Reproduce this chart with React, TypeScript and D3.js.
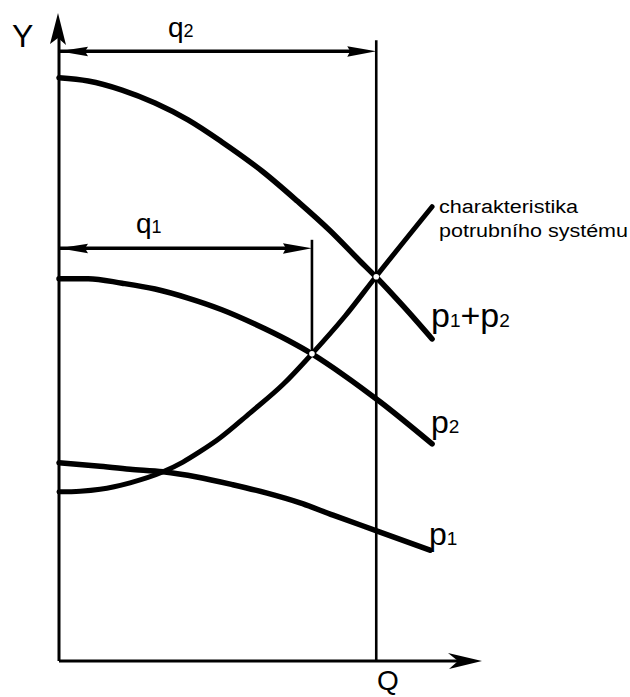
import React from "react";
import * as d3 from "d3";

// Data in chart units (x: flow Q 0..10, y: head Y 0..10)
const curveP1P2: [number, number][] = [
  [0, 9.0], [0.69, 8.95], [1.49, 8.81], [2.27, 8.61], [3.05, 8.35], [3.85, 8.01],
  [4.82, 7.55], [5.63, 7.1], [6.41, 6.64], [7.12, 6.17], [7.49, 5.93], [8.16, 5.46], [8.82, 4.97],
];
const curveP2: [number, number][] = [
  [0, 5.9], [0.69, 5.9], [1.49, 5.83], [2.27, 5.74], [3.05, 5.6], [3.85, 5.42],
  [4.63, 5.2], [5.41, 4.95], [5.98, 4.74], [6.76, 4.4], [7.59, 4.0], [8.82, 3.35],
];
const curveP1: [number, number][] = [
  [0, 3.06], [0.9, 3.01], [1.68, 2.96], [2.46, 2.92], [3.26, 2.84], [4.11, 2.72],
  [4.92, 2.59], [5.7, 2.44], [6.48, 2.25], [7.59, 1.99], [8.77, 1.71],
];
const curveSystem: [number, number][] = [
  [0, 2.61], [0.5, 2.62], [0.97, 2.65], [1.68, 2.75], [2.46, 2.92], [2.93, 3.07],
  [3.33, 3.23], [3.74, 3.41], [4.52, 3.83], [5.3, 4.27], [5.98, 4.74], [6.76, 5.32],
  [7.49, 5.93], [8.82, 7.01],
];
const operatingQ = [5.98, 7.5]; // q1, q2
const operatingY = [4.74, 5.93];
const dimensionY = [6.37, 9.41]; // heights of q1, q2 dimension arrows
const guideTopY = [6.5, 9.58];
const curveLabels = ["p1", "p2", "p1+p2"];
const systemLabel = ["charakteristika", "potrubního systému"];

const W = 630;
const H = 697;

export default function App() {
  const x = d3.scaleLinear().domain([0, 10]).range([59, 482]);
  const y = d3.scaleLinear().domain([0, 10]).range([661, 13]);
  const line = d3
    .line<[number, number]>()
    .x((d) => x(d[0]))
    .y((d) => y(d[1]))
    .curve(d3.curveMonotoneX);

  const x0 = x(0);
  const y0 = y(0);
  const font = "'Liberation Sans', Arial, sans-serif";

  const curveStyle = {
    fill: "none",
    stroke: "#000",
    strokeWidth: 5.5,
    strokeLinecap: "round" as const,
    strokeLinejoin: "round" as const,
  };

  const leftHead = (tx: number, ty: number) =>
    `M${tx},${ty} L${tx + 29},${ty - 4.5} L${tx + 26},${ty} L${tx + 29},${ty + 5} Z`;
  const rightHead = (tx: number, ty: number) =>
    `M${tx},${ty} L${tx - 29},${ty - 5} L${tx - 26},${ty} L${tx - 29},${ty + 5.5} Z`;

  return (
    <svg
      width={W}
      height={H}
      style={{ position: "absolute", left: 0, top: 0, background: "#fff" }}
    >
      <rect width={W} height={H} fill="#fff" />
      {/* axes */}
      <line x1={x0} y1={y0} x2={x(10) - 20} y2={y0} stroke="#000" strokeWidth={3} />
      <line x1={x0} y1={y0} x2={x0} y2={y(10) + 20} stroke="#000" strokeWidth={3} />
      <path
        d={`M${x(10)},${y0} L${x(10) - 34},${y0 - 8} L${x(10) - 24},${y0} L${x(10) - 33},${y0 + 8} Z`}
        fill="#000"
      />
      <path
        d={`M${x0 - 1},${y(10)} L${x0 - 9},${y(10) + 31} L${x0 - 1},${y(10) + 25} L${x0 + 7},${y(10) + 32} Z`}
        fill="#000"
      />

      {/* vertical guides at q1, q2 */}
      {operatingQ.map((q, i) => (
        <line
          key={"g" + i}
          x1={x(q)}
          x2={x(q)}
          y1={y(guideTopY[i])}
          y2={i === 1 ? y0 : y(operatingY[i])}
          stroke="#000"
          strokeWidth={2.6}
        />
      ))}

      {/* dimension arrows */}
      {operatingQ.map((q, i) => (
        <g key={"d" + i}>
          <line
            x1={x0}
            x2={x(q) - 20}
            y1={y(dimensionY[i])}
            y2={y(dimensionY[i])}
            stroke="#000"
            strokeWidth={3.5}
          />
          <path d={leftHead(x0, y(dimensionY[i]))} fill="#000" />
          <path d={rightHead(x(q), y(dimensionY[i]))} fill="#000" />
        </g>
      ))}

      {/* curves */}
      <path d={line(curveP1P2) || ""} {...curveStyle} />
      <path d={line(curveP2) || ""} {...curveStyle} />
      <path d={line(curveP1) || ""} {...curveStyle} />
      <path d={line(curveSystem) || ""} {...curveStyle} strokeWidth={5} />

      {/* operating points */}
      {operatingQ.map((q, i) => (
        <circle key={"c" + i} cx={x(q)} cy={y(operatingY[i])} r={2.8} fill="#fff" />
      ))}

      {/* labels */}
      <text x={12} y={47} fontFamily={font} fontSize={32}>Y</text>
      <text x={168} y={37} fontFamily={font} fontSize={28}>
        q<tspan fontSize={18}>2</tspan>
      </text>
      <text x={136} y={233} fontFamily={font} fontSize={28}>
        q<tspan fontSize={18}>1</tspan>
      </text>
      <text x={388} y={690} fontFamily={font} fontSize={28} textAnchor="middle">Q</text>

      <text x={439} y={213} fontFamily={font} fontSize={18} textLength={139} lengthAdjust="spacingAndGlyphs">
        {systemLabel[0]}
      </text>
      <text x={439} y={237} fontFamily={font} fontSize={18} textLength={189} lengthAdjust="spacingAndGlyphs">
        {systemLabel[1]}
      </text>

      <text x={431} y={327} fontFamily={font} fontSize={34}>
        {curveLabels[2].slice(0, 1)}
        <tspan fontSize={19}>1</tspan>+p<tspan fontSize={19}>2</tspan>
      </text>
      <text x={431} y={433} fontFamily={font} fontSize={32}>
        {curveLabels[1].slice(0, 1)}
        <tspan fontSize={19}>2</tspan>
      </text>
      <text x={429} y={545} fontFamily={font} fontSize={32}>
        {curveLabels[0].slice(0, 1)}
        <tspan fontSize={19}>1</tspan>
      </text>
    </svg>
  );
}
